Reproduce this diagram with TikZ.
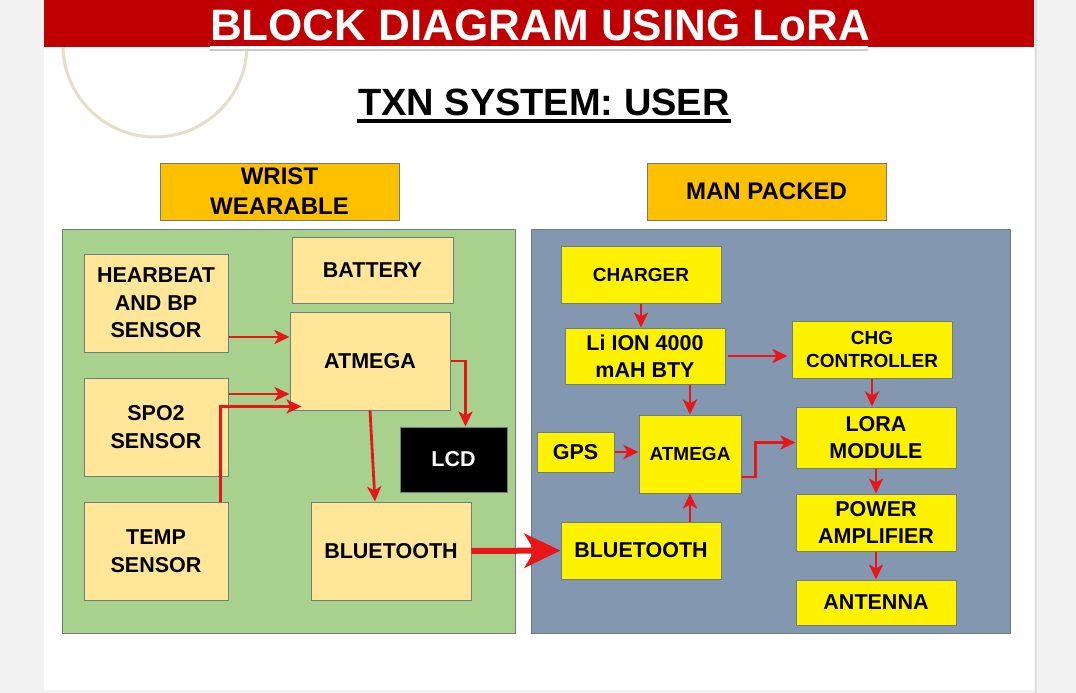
\documentclass[tikz,border=0pt]{standalone}
\usepackage{fontspec}
\setmainfont{Liberation Sans}
\usetikzlibrary{arrows.meta}
\definecolor{bannerred}{RGB}{192,0,0}
\definecolor{hdrorange}{RGB}{255,192,0}
\definecolor{wristgreen}{RGB}{169,209,142}
\definecolor{packblue}{RGB}{132,151,176}
\definecolor{sandbox}{RGB}{255,230,153}
\definecolor{flowred}{RGB}{232,22,22}
\definecolor{edgegray}{RGB}{110,125,125}
\definecolor{ringbeige}{RGB}{228,222,200}

\begin{document}
\begin{tikzpicture}[x=1pt,y=-1pt,
  blk/.style={draw=edgegray, line width=1pt, inner sep=0pt, align=center,
    font=\bfseries\fontsize{21.5}{27.5}\selectfont},
  sandblk/.style={blk, fill=sandbox},
  yelblk/.style={blk, fill=yellow},
  smallblk/.style={yelblk, font=\bfseries\fontsize{19}{23}\selectfont},
  hdrblk/.style={blk, fill=hdrorange, font=\bfseries\fontsize{24}{30}\selectfont},
  flow/.style={draw=flowred, line width=2.8pt, -{Stealth[length=15pt,width=14pt,inset=4pt]}},
  bigflow/.style={draw=flowred, line width=6pt, -{Stealth[length=36pt,width=34pt,inset=10pt]}}]
\useasboundingbox (0,0) rectangle (1076,693);
\fill[gray!10] (0,0) rectangle (1076,693);
\fill[white] (44,0) rectangle (1034,690);
\draw[gray!25, line width=1.5pt] (1036,0) -- (1036,693);
\draw[ringbeige, line width=3pt] (155,45) circle (92);
\fill[bannerred] (44,0) rectangle (1034,47);
\node[text=white, font=\bfseries\fontsize{44}{50}\selectfont] (title) at (540,25) {BLOCK DIAGRAM USING LoRA};
\draw[gray!40, line width=1.5pt] (210,50) -- (868,50);
\draw[white, line width=3pt] (210,47.5) -- (868,47.5);
\node[font=\bfseries\fontsize{38}{44}\selectfont] (subtitle) at (544,102) {TXN SYSTEM: USER};
\draw[black, line width=3.5pt] (357,121) -- (731,121);

\node[hdrblk, minimum width=239pt, minimum height=57pt] (wrist) at (279.5,191.5) {WRIST\\WEARABLE};
\node[hdrblk, minimum width=239pt, minimum height=57pt] (packed) at (766.5,191.5) {MAN PACKED};

\draw[fill=wristgreen, draw=edgegray, line width=1pt] (62,229) rectangle (515,633);
\draw[fill=packblue, draw=edgegray, line width=1pt] (531,229) rectangle (1010,633);

\node[sandblk, minimum width=144pt, minimum height=98pt] (heart) at (156,303) {HEARBEAT\\AND BP\\SENSOR};
\node[sandblk, minimum width=144pt, minimum height=98pt] (spo) at (156,427) {SPO2\\SENSOR};
\node[sandblk, minimum width=144pt, minimum height=98pt] (temp) at (156,551) {TEMP\\SENSOR};
\node[sandblk, minimum width=161pt, minimum height=66pt] (battery) at (372.5,270) {BATTERY};
\node[sandblk, minimum width=160pt, minimum height=98pt] (mcuw) at (370,361) {ATMEGA};
\node[blk, fill=black, text=white, minimum width=107pt, minimum height=65pt] (lcd) at (453.5,459.5) {LCD};
\node[sandblk, minimum width=160pt, minimum height=98pt] (btw) at (391,551) {BLUETOOTH};

\node[smallblk, minimum width=160pt, minimum height=57pt] (charger) at (641,274.5) {CHARGER};
\node[yelblk, minimum width=160pt, minimum height=56pt] (liion) at (645,356) {Li ION 4000\\mAH BTY};
\node[smallblk, minimum width=160pt, minimum height=57pt] (chgctl) at (872,349.5) {CHG\\CONTROLLER};
\node[yelblk, minimum width=77pt, minimum height=40pt] (gps) at (575.5,452) {GPS};
\node[smallblk, minimum width=102pt, minimum height=78pt] (mcup) at (690,454) {ATMEGA};
\node[yelblk, minimum width=160pt, minimum height=61pt] (lora) at (876,437.5) {LORA\\MODULE};
\node[yelblk, minimum width=160pt, minimum height=57pt] (amp) at (876,522.5) {POWER\\AMPLIFIER};
\node[yelblk, minimum width=160pt, minimum height=57pt] (btp) at (641,550.5) {BLUETOOTH};
\node[yelblk, minimum width=160pt, minimum height=45pt] (antenna) at (876,602.5) {ANTENNA};

\draw[flow] ([yshift=-34pt]heart.east) coordinate (heartout) -- (heartout -| mcuw.west);
\draw[flow] ([yshift=33pt]spo.east) coordinate (spoout) -- (spoout -| mcuw.west);
\draw[flow] ([xshift=-8pt]temp.north east) |- ([xshift=12pt,yshift=4pt]mcuw.south west);
\draw[flow] (mcuw.east) -| ([xshift=12pt]lcd.north);
\draw[flow] (mcuw.south) -- ([xshift=-16pt]btw.north);
\draw[bigflow] (btw.east) -- (btp.west);

\draw[flow] (charger.south) -- (charger.south |- liion.north);
\draw[flow] ([xshift=2pt]liion.east) -- ([xshift=-4pt]liion.east -| chgctl.west);
\draw[flow] (mcup.north |- liion.south) -- (mcup.north);
\draw[flow] (gps.east) -- (gps.east -| mcup.west);
\draw[flow] ([yshift=-23pt]mcup.east) -- ++(14,0) |- ([yshift=-5pt]lora.west);
\draw[flow] (chgctl.south) -- (chgctl.south |- lora.north);
\draw[flow] (lora.south) -- (amp.north);
\draw[flow] (amp.south) -- (antenna.north);
\draw[flow] (mcup.south |- btp.north) -- (mcup.south);
\end{tikzpicture}
\end{document}
